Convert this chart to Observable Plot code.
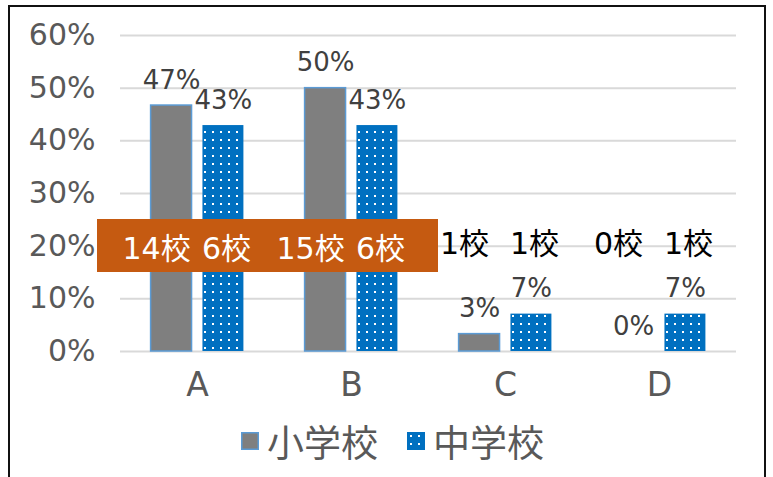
<!DOCTYPE html>
<html>
<head>
<meta charset="utf-8">
<script src="https://cdn.jsdelivr.net/npm/d3@7"></script>
<script src="https://cdn.jsdelivr.net/npm/@observablehq/plot@0.6"></script>
<style>
  html, body { margin: 0; padding: 0; background: #fff; width: 773px; height: 477px; overflow: hidden; }
  #wrap { position: relative; width: 773px; height: 477px; }
  #frame { position: absolute; left: 8px; top: 5px; width: 758px; height: 490px; box-sizing: border-box; border: 2px solid #111; pointer-events: none; }
  #legend { position: absolute; left: 0; top: 410px; width: 773px; height: 62px; box-sizing: border-box; padding-left: 12px;
            display: flex; justify-content: center; align-items: center; gap: 29px;
            font-family: "Noto Sans CJK JP", sans-serif; font-size: 37px; color: #595959; }
  .item { display: flex; align-items: center; gap: 8px; }
  .item svg { display: block; }
</style>
</head>
<body>
<svg width="0" height="0" style="position:absolute">
  <defs>
    <pattern id="dots" width="8" height="8" patternUnits="userSpaceOnUse">
      <rect width="8" height="8" fill="#0070C0"></rect>
      <rect x="3" y="3" width="2" height="2" fill="#ffffff"></rect>
    </pattern>
  </defs>
</svg>
<div id="wrap">
  <div id="chart"></div>
  <div id="legend"></div>
  <div id="frame"></div>
</div>
<script>
// ---- data ----
const categories = ["A", "B", "C", "D"];
const seriesNames = ["小学校", "中学校"];
const elementary = [0.467, 0.500, 0.033, 0.000];
const juniorHigh = [0.429, 0.429, 0.071, 0.071];
const elementaryCounts = [14, 15, 1, 0];
const juniorHighCounts = [6, 6, 1, 1];
const highlighted = ["A", "B"];
const yTicks = [0, 0.1, 0.2, 0.3, 0.4, 0.5, 0.6];
const countLevel = 0.2;
const highlightBand = [0.15, 0.25];

const rows = categories.flatMap((c, i) => [
  {cat: c, series: seriesNames[0], value: elementary[i], count: elementaryCounts[i]},
  {cat: c, series: seriesNames[1], value: juniorHigh[i], count: juniorHighCounts[i]}
]);
const pct = d3.format(".0%");
const latin = "'DejaVu Sans', 'Noto Sans CJK JP', sans-serif";

function countLabels(series, dx) {
  const sub = rows.filter(d => d.series === series);
  const opts = {fx: "cat", x: "series", y: () => countLevel, text: d => `${d.count}校`, fontSize: 30, dx};
  return [
    Plot.text(sub.filter(d => highlighted.includes(d.cat)), {...opts, fill: "#ffffff", dy: 3}),
    Plot.text(sub.filter(d => !highlighted.includes(d.cat)), {...opts, fill: "#000000", dy: -2})
  ];
}

const chart = Plot.plot({
  width: 773,
  height: 410,
  marginLeft: 119,
  marginRight: 36,
  marginTop: 35,
  marginBottom: 59,
  style: {fontFamily: latin, background: "transparent", color: "#595959", overflow: "visible"},
  fx: {domain: categories, paddingInner: 0, paddingOuter: 0, axis: null, label: null},
  x: {domain: seriesNames, paddingInner: 0.21, paddingOuter: 0.59, round: false, axis: null, label: null},
  y: {domain: [0, 0.6], axis: null, label: null},
  marks: [
    Plot.gridY(yTicks, {stroke: "#d9d9d9", strokeOpacity: 1, strokeWidth: 2}),
    Plot.axisY(yTicks, {tickFormat: pct, tickSize: 0, tickPadding: 25, fontSize: 30, fill: "#595959", label: null}),
    Plot.axisFx({anchor: "bottom", tickSize: 0, tickPadding: 21, fontSize: 33, fill: "#595959", label: null}),
    Plot.barY(rows.filter(d => d.series === seriesNames[0] && d.value > 0),
      {fx: "cat", x: "series", y: "value", fill: "#7F7F7F", stroke: "#5B9BD5", strokeWidth: 1.5}),
    Plot.barY(rows.filter(d => d.series === seriesNames[1] && d.value > 0),
      {fx: "cat", x: "series", y: "value", fill: "url(#dots)"}),
    Plot.text(rows, {fx: "cat", x: "series", y: "value", text: d => pct(d.value),
      lineAnchor: "bottom", dy: -17, fill: "#404040", fontSize: 26}),
    Plot.rect(highlighted, {fx: d => d, y1: () => highlightBand[0], y2: () => highlightBand[1],
      fill: "#C55A11", insetLeft: -23, insetRight: -10, shapeRendering: "crispEdges"}),
    ...countLabels(seriesNames[0], -15),
    ...countLabels(seriesNames[1], 3)
  ]
});
document.getElementById("chart").appendChild(chart);

// legend
const legend = document.getElementById("legend");
seriesNames.forEach((name, i) => {
  const item = document.createElement("div");
  item.className = "item";
  const sw = i === 0
    ? `<svg width="18" height="18"><rect x="0.75" y="0.75" width="16.5" height="16.5" fill="#7F7F7F" stroke="#5B9BD5" stroke-width="1.5"></rect></svg>`
    : `<svg width="18" height="18"><rect x="0" y="0" width="18" height="18" fill="url(#dots)"></rect></svg>`;
  item.innerHTML = sw + `<span>${name}</span>`;
  legend.appendChild(item);
});
</script>
</body>
</html>
